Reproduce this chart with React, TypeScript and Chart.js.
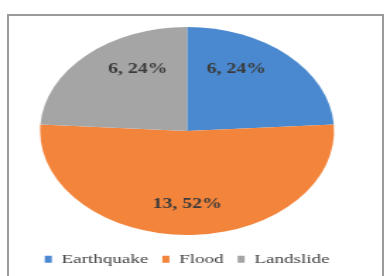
import React, { useEffect, useRef } from "react";
import { Chart, registerables } from "chart.js";

Chart.register(...registerables);

const categories = ["Earthquake", "Flood", "Landslide"];
const values = [6, 13, 6];
const colors = ["#4a89cf", "#f3843c", "#a5a5a5"];

const STRETCH = 1.413;
const BASE_W = 386 / STRETCH;
const SERIF = '"Liberation Serif", "Times New Roman", Times, serif';

const labelPlugin = {
  id: "sliceLabels",
  afterDatasetsDraw(chart: any) {
    const ctx = chart.ctx;
    const meta = chart.getDatasetMeta(0);
    const data = chart.data.datasets[0].data as number[];
    const total = data.reduce((a, b) => a + b, 0);
    ctx.save();
    ctx.font = `bold 14px ${SERIF}`;
    ctx.fillStyle = "#3a3a3a";
    ctx.textAlign = "center";
    ctx.textBaseline = "middle";
    meta.data.forEach((arc: any, i: number) => {
      const p = arc.getProps(["x", "y", "startAngle", "endAngle", "outerRadius"], true);
      const mid = (p.startAngle + p.endAngle) / 2;
      const x = p.x + Math.cos(mid) * p.outerRadius * 0.49;
      const y = p.y + Math.sin(mid) * p.outerRadius * 0.75 - 5;
      const pct = Math.round((data[i] / total) * 100);
      ctx.fillText(`${data[i]}, ${pct}%`, x, y);
    });
    ctx.restore();
  },
};

export default function App() {
  const ref = useRef<HTMLCanvasElement | null>(null);
  useEffect(() => {
    if (!ref.current) return;
    const chart = new Chart(ref.current, {
      type: "pie",
      data: {
        labels: categories,
        datasets: [
          {
            data: values,
            backgroundColor: colors,
            borderWidth: 0,
            hoverOffset: 0,
            offset: 0,
            radius: "93.3%",
          } as any,
        ],
      },
      options: {
        animation: false,
        responsive: true,
        maintainAspectRatio: false,
        layout: { padding: { left: 0, right: 8.4, top: 19.5, bottom: 0 } },
        plugins: {
          tooltip: { enabled: false },
          legend: {
            position: "bottom",
            labels: {
              boxWidth: 5,
              boxHeight: 7,
              padding: 10,
              color: "#404040",
              font: { family: SERIF, size: 13.5 },
            },
          },
        },
      },
      plugins: [labelPlugin],
    });
    return () => chart.destroy();
  }, []);

  return (
    <div>
      <div
        style={{
          position: "fixed",
          left: 7,
          top: 14,
          width: 377,
          height: 300,
          boxSizing: "border-box",
          border: "2px solid #9a9a9a",
          background: "#fff",
        }}
      />
      <div
        style={{
          position: "fixed",
          left: 0,
          top: 0,
          width: BASE_W,
          height: 276,
          transform: `scaleX(${STRETCH})`,
          transformOrigin: "0 0",
        }}
      >
        <canvas ref={ref} />
      </div>
    </div>
  );
}
